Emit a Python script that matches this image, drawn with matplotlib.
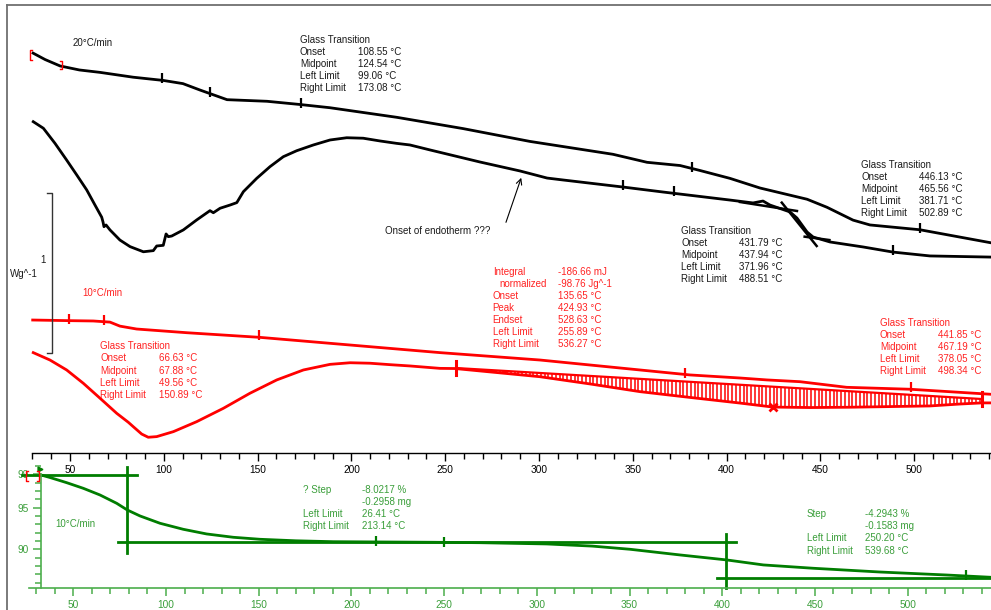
import numpy as np
import matplotlib
matplotlib.use('Agg')
import matplotlib.pyplot as plt
from matplotlib.lines import Line2D
from matplotlib.ticker import MultipleLocator, FixedLocator

plt.rcParams['font.family'] = ['Liberation Sans', 'DejaVu Sans']

# ---------------- data (temperature in °C, heat flow in W/g offset, mass in %) ----------------
# DSC 20 °C/min, upper curve
blk_up_T = [30.3, 36.7, 44.7, 55.0, 66.0, 83.6, 99.6, 110.2, 119.3, 133.7, 155.0, 172.6,
            188.5, 224.3, 259.5, 295.2, 339.4, 357.6, 375.2, 385.5, 401.8, 417.8, 442.9,
            453.5, 467.4, 476.4, 503.1, 540.4]
blk_up_hf = [2.49, 2.45, 2.41, 2.385, 2.37, 2.34, 2.32, 2.30, 2.26, 2.20, 2.19, 2.17,
             2.15, 2.09, 2.02, 1.94, 1.86, 1.81, 1.79, 1.76, 1.71, 1.65, 1.58,
             1.53, 1.45, 1.42, 1.39, 1.31]

# DSC 20 °C/min, lower curve
blk_lo_T = [30.4, 35.8, 42.0, 48.2, 53.6, 58.9, 63.3, 66.9, 67.6, 68.1, 69.2, 71.3, 76.6,
            82.0, 89.1, 94.4, 96.2, 99.7, 101.2, 102.4, 104.2, 110.4, 117.5, 124.6, 126.4,
            130.0, 135.3, 138.9, 142.4, 149.5, 156.6, 163.7, 170.8, 179.7, 188.6, 197.5,
            206.3, 215.2, 224.1, 231.2, 241.9, 268.5, 289.9, 304.3, 312.8, 344.8, 366.1,
            401.8, 414.1, 419.4, 423.1, 433.8, 437.5, 442.9, 446.1, 455.1, 472.7, 488.7,
            508.4, 540.4]
blk_lo_hf = [2.063, 2.022, 1.928, 1.824, 1.731, 1.638, 1.544, 1.468, 1.438, 1.409, 1.420,
             1.389, 1.326, 1.285, 1.253, 1.260, 1.289, 1.293, 1.364, 1.347, 1.351, 1.389,
             1.451, 1.509, 1.496, 1.524, 1.544, 1.559, 1.627, 1.710, 1.783, 1.845, 1.882,
             1.918, 1.949, 1.963, 1.960, 1.943, 1.928, 1.918, 1.887, 1.812, 1.756, 1.712,
             1.700, 1.656, 1.625, 1.575, 1.557, 1.569, 1.544, 1.501, 1.463, 1.376, 1.345,
             1.314, 1.283, 1.251, 1.227, 1.220]

# DSC 10 °C/min, upper curve
red_up_T = [30.1, 50.0, 62.4, 71.3, 76.6, 85.5, 112.2, 151.3, 188.6, 247.2, 300.5, 353.8,
            380.5, 407.1, 421.4, 439.1, 464.0, 497.8, 540.4]
red_up_hf = [0.828, 0.824, 0.822, 0.815, 0.790, 0.772, 0.749, 0.720, 0.683, 0.625, 0.579,
             0.517, 0.486, 0.467, 0.455, 0.444, 0.409, 0.397, 0.366]

# DSC 10 °C/min, lower curve
red_lo_T = [30.4, 39.3, 48.2, 57.1, 66.0, 74.9, 81.1, 83.7, 88.2, 91.7, 96.2, 105.1, 117.5,
            131.7, 145.9, 160.2, 174.4, 188.6, 199.3, 209.9, 220.6, 231.2, 247.2, 255.2,
            300.5, 327.2, 353.8, 380.5, 407.1, 424.7, 444.4, 465.7, 487.1, 508.4, 524.4,
            536.1, 540.4]
red_lo_hf = [0.625, 0.579, 0.517, 0.434, 0.341, 0.247, 0.191, 0.164, 0.118, 0.098, 0.102,
             0.133, 0.195, 0.278, 0.372, 0.455, 0.517, 0.552, 0.562, 0.559, 0.550, 0.542,
             0.527, 0.526, 0.475, 0.430, 0.382, 0.346, 0.311, 0.286, 0.283, 0.285, 0.289,
             0.293, 0.305, 0.312, 0.312]

# integration baseline (left limit / right limit)
int_base_T = [255.89, 536.27]
int_base_hf = [0.529, 0.336]
int_peak_T = 424.93

# TGA 10 °C/min
tga_T = [32.6, 37.4, 46.4, 55.4, 64.4, 73.4, 79.1, 86.0, 96.8, 109.3, 121.9, 136.3, 150.7,
         170.0, 190.2, 244.2, 269.4, 305.3, 330.0, 350.3, 377.2, 402.4, 422.2, 449.1,
         485.1, 521.1, 544.6]
tga_pct = [98.92, 98.62, 98.00, 97.32, 96.52, 95.52, 94.72, 94.00, 93.12, 92.40, 91.84,
           91.44, 91.20, 91.02, 90.91, 90.84, 90.79, 90.64, 90.38, 90.00, 89.32, 88.72,
           88.12, 87.72, 87.27, 86.91, 86.64]

# TGA step construction lines
tga_step1_level_hi = 98.92
tga_step1_level_lo = 90.84
tga_step1_T = 79.1
tga_step2_level_lo = 86.59
tga_step2_T = 402.1

# evaluation limit markers
blk_up_marks = [99.06, 124.6, 173.08, 381.71, 502.89]
blk_lo_marks = [344.8, 371.96, 488.51]
red_up_marks = [49.56, 67.88, 150.89, 378.05, 498.34]
tga_marks = [213.14, 250.20, 531.5]

# glass transition tangents on lower 20 °C/min curve
gt_tan_T = [[407.1, 437.5], [429.4, 448.0], [441.6, 454.8]]
gt_tan_hf = [[1.563, 1.507], [1.559, 1.289], [1.347, 1.326]]

W, H = 991, 610
RED = '#ff0000'
RED_T = '#ff2222'
BLK = '#000000'
BLK_T = '#1a1a1a'
GRN = '#007d00'
GRN_T = '#3a9e3a'
GRN_AX = '#4cae4c'

fig = plt.figure(figsize=(W / 100, H / 100), dpi=100)


def fx(px):
    return px / W


def fy(py):
    return 1 - py / H


def fline(xs, ys, c, lw):
    fig.add_artist(Line2D([fx(v) for v in xs], [fy(v) for v in ys], color=c, lw=lw))


# outer frame
fline([7, 7], [5, 612], '#707070', 1.3)
fline([7, 993], [5, 5], '#707070', 1.3)

# small red range brackets
fline([32, 30, 30, 32], [50, 50, 60, 60], RED, 1.0)
fline([60, 62, 62, 60], [61, 61, 69, 69], RED, 1.0)
fline([28, 26, 26, 28], [471, 471, 481, 481], RED, 1.0)
fline([37, 39, 39, 37], [471, 471, 481, 481], RED, 1.0)

# ---------------- DSC axes ----------------
ax1 = fig.add_axes([fx(32.5), fy(453), fx(991 - 32.5), (453 - 5) / H])
ax1.set_xlim(30, 30 + 958.5 / 1.876)
ax1.set_ylim(0, 448 / 160.6)
ax1.patch.set_alpha(0)
for s in ['top', 'right', 'left']:
    ax1.spines[s].set_visible(False)
ax1.spines['bottom'].set_color('black')
ax1.spines['bottom'].set_linewidth(1.0)
ax1.set_yticks([])
ax1.xaxis.set_major_locator(MultipleLocator(50))
ax1.xaxis.set_minor_locator(MultipleLocator(10))
ax1.tick_params(axis='x', which='major', direction='out', length=6, width=1,
                pad=2.5, labelsize=7.3, colors='black')
ax1.tick_params(axis='x', which='minor', direction='out', length=4, width=1, colors='black')

lw = 2.0
ax1.plot(blk_up_T, blk_up_hf, color=BLK, lw=lw, clip_on=False, solid_joinstyle='round')
ax1.plot(blk_lo_T, blk_lo_hf, color=BLK, lw=lw, clip_on=False, solid_joinstyle='round')
ax1.plot(red_up_T, red_up_hf, color=RED, lw=lw, clip_on=False, solid_joinstyle='round')
ax1.plot(red_lo_T, red_lo_hf, color=RED, lw=lw, clip_on=False, solid_joinstyle='round')

# tangents
for tt, hh in zip(gt_tan_T, gt_tan_hf):
    ax1.plot(tt, hh, color=BLK, lw=1.8)

# integral hatching
hT = np.arange(257.0, 536.0, 2.0)
h_base = np.interp(hT, int_base_T, int_base_hf)
h_curve = np.interp(hT, red_lo_T, red_lo_hf)
ax1.vlines(hT, h_curve, h_base, color=RED, lw=1.1)
ax1.plot(int_base_T, int_base_hf, color=RED, lw=1.6)
for tl in int_base_T:
    yb = np.interp(tl, int_base_T, int_base_hf)
    ax1.plot([tl, tl], [yb - 0.045, yb + 0.045], color=RED, lw=2.2)
ax1.plot([int_peak_T], [np.interp(int_peak_T, red_lo_T, red_lo_hf)], marker='x',
         color=RED, ms=6, mew=2)

# limit markers
ax1.plot(blk_up_marks, np.interp(blk_up_marks, blk_up_T, blk_up_hf) + 0.012, ls='none',
         marker='|', ms=7, mew=1.6, color=BLK)
ax1.plot(blk_lo_marks, np.interp(blk_lo_marks, blk_lo_T, blk_lo_hf) + 0.012, ls='none',
         marker='|', ms=7, mew=1.6, color=BLK)
ax1.plot(red_up_marks, np.interp(red_up_marks, red_up_T, red_up_hf) + 0.012, ls='none',
         marker='|', ms=7, mew=1.6, color=RED)

# scale bar 1 W/g
ax1.plot([37.6, 40.6, 40.6, 37.6], [1.621, 1.621, 0.624, 0.624], color='#333333', lw=1.0)

# arrow
ax1.annotate('', xy=(291.0, 1.73), xytext=(281.9, 1.42),
             arrowprops=dict(arrowstyle='->', color='black', lw=0.8))

# ---------------- TGA axes ----------------
ax2 = fig.add_axes([fx(29), fy(588), fx(991 - 29), (588 - 463) / H])
ax2.set_xlim(50 + (29 - 73.3) / 1.854, 50 + (991 - 73.3) / 1.854)
ax2.set_ylim(85.35, 100.36)
ax2.patch.set_alpha(0)
ax2.spines['top'].set_visible(False)
ax2.spines['right'].set_visible(False)
ax2.spines['bottom'].set_color(GRN_AX)
ax2.spines['left'].set_color(GRN_AX)
ax2.spines['bottom'].set_linewidth(1.2)
ax2.spines['left'].set_linewidth(1.2)
ax2.spines['left'].set_position(('data', 32.6))
ax2.spines['left'].set_bounds(85.35, 99.0)
ax2.xaxis.set_major_locator(MultipleLocator(50))
ax2.xaxis.set_minor_locator(MultipleLocator(10))
ax2.yaxis.set_major_locator(FixedLocator([90, 95, 99]))
ax2.yaxis.set_minor_locator(MultipleLocator(1))
ax2.tick_params(axis='both', which='major', direction='out', length=6, width=1.1,
                pad=2.5, labelsize=7.3, colors=GRN_T)
ax2.tick_params(axis='both', which='minor', direction='out', length=4, width=1.1,
                colors=GRN_AX)
ax2.tick_params(axis='both', which='major', color=GRN_AX)

ax2.plot(tga_T, tga_pct, color=GRN, lw=lw, clip_on=False, solid_joinstyle='round')
ax2.plot([22.2, 84.2], [tga_step1_level_hi] * 2, color=GRN, lw=lw, clip_on=False)
ax2.plot([tga_step1_T] * 2, [99.92, 89.6], color=GRN, lw=lw, clip_on=False)
ax2.plot([74.0, 407.3], [tga_step1_level_lo] * 2, color=GRN, lw=lw, clip_on=False)
ax2.plot([tga_step2_T] * 2, [91.84, 85.35], color=GRN, lw=lw, clip_on=False)
ax2.plot([397.0, 545.0], [tga_step2_level_lo] * 2, color=GRN, lw=lw, clip_on=False)
ax2.plot(tga_marks, np.interp(tga_marks, tga_T, tga_pct) + 0.1, ls='none', marker='|',
         ms=7, mew=1.6, color=GRN, clip_on=False)
ax2.plot([32.0], [99.6], marker='>', ms=3.5, color=GRN, clip_on=False)

# ---------------- texts ----------------
FS = 7.0


def t(px, py, s, c, fs=FS):
    fig.text(fx(px), fy(py), s, color=c, fontsize=fs, va='center', ha='left')


def block(xl, xv, ys, labels, values, c):
    for y, l, v in zip(ys, labels, values):
        if l:
            t(xl, y, l, c)
        if v:
            t(xv, y, v, c)


gt_labels = ['Glass Transition', 'Onset', 'Midpoint', 'Left Limit', 'Right Limit']

t(73, 43, '20°C/min', BLK_T)
block(300, 358, [40, 52, 64, 76, 88], gt_labels,
      ['', '108.55 °C', '124.54 °C', '99.06 °C', '173.08 °C'], BLK_T)
block(861, 919, [165, 177, 189, 201, 213], gt_labels,
      ['', '446.13 °C', '465.56 °C', '381.71 °C', '502.89 °C'], BLK_T)
block(681, 739, [231, 243, 255, 267, 279], gt_labels,
      ['', '431.79 °C', '437.94 °C', '371.96 °C', '488.51 °C'], BLK_T)
t(385, 231, 'Onset of endotherm ???', BLK_T)
t(40, 260, '1', BLK_T)
t(10, 274, 'Wg^-1', BLK_T)

t(82, 292.5, '10°C/min', RED_T)
block(100.5, 159.3, [346, 358.3, 370.6, 382.9, 395.2], gt_labels,
      ['', '66.63 °C', '67.88 °C', '49.56 °C', '150.89 °C'], RED_T)
int_labels = ['Integral', '', 'Onset', 'Peak', 'Endset', 'Left Limit', 'Right Limit']
int_values = ['-186.66 mJ', '-98.76 Jg^-1', '135.65 °C', '424.93 °C', '528.63 °C',
              '255.89 °C', '536.27 °C']
int_ys = [271.7 + 12.05 * i for i in range(7)]
block(492.7, 557.7, int_ys, int_labels, int_values, RED_T)
t(499.3, int_ys[1], 'normalized', RED_T)
block(880, 938.3, [323.3, 335.3, 347.3, 359.3, 371.3], gt_labels,
      ['', '441.85 °C', '467.19 °C', '378.05 °C', '498.34 °C'], RED_T)

t(55, 524.3, '10°C/min', GRN_T)
block(303.3, 361.7, [489.7, 501.7, 513.6, 525.6],
      ['? Step', '', 'Left Limit', 'Right Limit'],
      ['-8.0217 %', '-0.2958 mg', '26.41 °C', '213.14 °C'], GRN_T)
block(806.7, 865, [514, 526.2, 538.4, 550.6],
      ['Step', '', 'Left Limit', 'Right Limit'],
      ['-4.2943 %', '-0.1583 mg', '250.20 °C', '539.68 °C'], GRN_T)

fig.savefig('out.png', dpi=100)
